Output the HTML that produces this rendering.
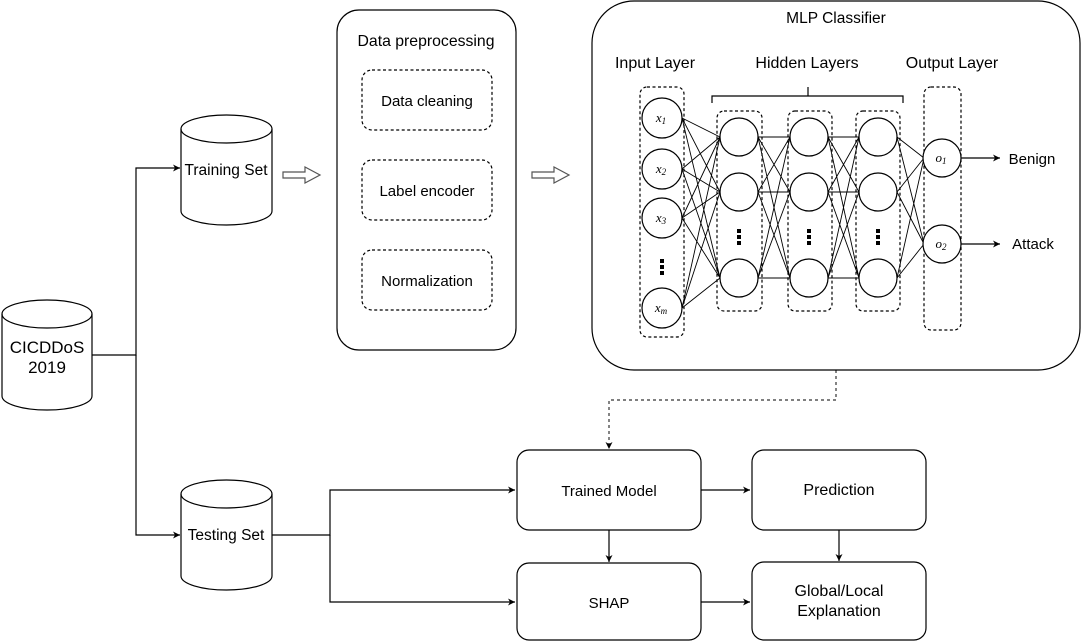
<!DOCTYPE html>
<html><head><meta charset="utf-8"><style>
body{margin:0;background:#fff}
svg{display:block}
text{font-family:"Liberation Sans",sans-serif;fill:#000}
.m{font-family:"Liberation Serif",serif;font-style:italic;font-size:13px}
</style></head><body>
<svg width="1082" height="641" viewBox="0 0 1082 641" xmlns="http://www.w3.org/2000/svg">
<defs><marker id="a" markerWidth="8" markerHeight="8" refX="7" refY="4" orient="auto" markerUnits="userSpaceOnUse"><path d="M0,0.5 L7,4 L0,7.5 L2,4 Z" fill="#000"/></marker></defs>
<g fill="none" stroke="#000" stroke-width="1.2">
<path d="M2,314 v82 a45,14 0 0 0 90,0 v-82"/><ellipse cx="47" cy="314" rx="45" ry="14"/>
<path d="M181,129 v82 a45.5,14 0 0 0 91,0 v-82"/><ellipse cx="226.5" cy="129" rx="45.5" ry="14"/>
<path d="M181,494 v82 a45.5,14 0 0 0 91,0 v-82"/><ellipse cx="226.5" cy="494" rx="45.5" ry="14"/>
<path d="M92,355 H136 V168 H180" marker-end="url(#a)"/>
<path d="M136,355 V535 H180" marker-end="url(#a)"/>
<path d="M272,535 H330 V490 H515" marker-end="url(#a)"/>
<path d="M330,535 V602 H515" marker-end="url(#a)"/>
<path d="M701,490 H750" marker-end="url(#a)"/>
<path d="M701,602 H750" marker-end="url(#a)"/>
<path d="M609,530 V562" marker-end="url(#a)"/>
<path d="M839,530 V561" marker-end="url(#a)"/>
<path d="M836,370 V400 H609 V449" stroke-dasharray="3,3" stroke="#333" marker-end="url(#a)"/>
<path d="M283,172 h22 v-5 l15,8 l-15,8 v-5 h-22 Z" stroke="#555"/>
<path d="M532,172 h22 v-5 l15,8 l-15,8 v-5 h-22 Z" stroke="#555"/>
<rect x="337" y="10" width="179" height="340" rx="22"/>
<rect x="592" y="1" width="488" height="369" rx="42"/>
<g stroke-dasharray="3,2.5">
<rect x="362" y="70" width="130" height="60" rx="10"/>
<rect x="362" y="160" width="130" height="60" rx="10"/>
<rect x="362" y="250" width="130" height="60" rx="10"/>
<rect x="640" y="87" width="44" height="250" rx="7"/>
<rect x="717" y="111" width="45" height="200" rx="7"/>
<rect x="788" y="111" width="44" height="200" rx="7"/>
<rect x="856" y="111" width="44" height="200" rx="7"/>
<rect x="924" y="87" width="37" height="243" rx="7"/>
</g>
<rect x="517" y="450" width="184" height="80" rx="12"/>
<rect x="752" y="450" width="174" height="80" rx="12"/>
<rect x="517" y="563" width="184" height="77" rx="12"/>
<rect x="752" y="562" width="174" height="78" rx="12"/>
<path d="M712,103 V96 H903 V103 M808,96 V87"/>
<g stroke-width="0.9">
<path d="M682,118L720,137M682,118L720,192M682,118L720,278M682,169L720,137M682,169L720,192M682,169L720,278M682,218L720,137M682,218L720,192M682,218L720,278M682,308L720,137M682,308L720,192M682,308L720,278"/>
<path d="M758,137L790,137M758,137L790,192M758,137L790,278M758,192L790,137M758,192L790,192M758,192L790,278M758,278L790,137M758,278L790,192M758,278L790,278"/>
<path d="M828,137L859,137M828,137L859,192M828,137L859,278M828,192L859,137M828,192L859,192M828,192L859,278M828,278L859,137M828,278L859,192M828,278L859,278"/>
<path d="M897,137L924,158M897,137L924,244M897,192L924,158M897,192L924,244M897,278L924,158M897,278L924,244"/>
</g>
<path d="M960,158H1000" marker-end="url(#a)"/>
<path d="M960,244H1000" marker-end="url(#a)"/>
<g fill="#fff">
<circle cx="662" cy="118" r="20"/><circle cx="662" cy="169" r="20"/><circle cx="662" cy="218" r="20"/><circle cx="662" cy="308" r="20"/>
<circle cx="739" cy="137" r="19"/><circle cx="739" cy="192" r="19"/><circle cx="739" cy="278" r="19"/>
<circle cx="809" cy="137" r="19"/><circle cx="809" cy="192" r="19"/><circle cx="809" cy="278" r="19"/>
<circle cx="878" cy="137" r="19"/><circle cx="878" cy="192" r="19"/><circle cx="878" cy="278" r="19"/>
<circle cx="942" cy="158" r="19"/><circle cx="942" cy="244" r="19"/>
</g>
</g>
<g fill="#000">
<rect x="660" y="259" width="4" height="4"/><rect x="660" y="265" width="4" height="4"/><rect x="660" y="271" width="4" height="4"/>
<rect x="737" y="229" width="4" height="4"/><rect x="737" y="235" width="4" height="4"/><rect x="737" y="241" width="4" height="4"/>
<rect x="807" y="229" width="4" height="4"/><rect x="807" y="235" width="4" height="4"/><rect x="807" y="241" width="4" height="4"/>
<rect x="876" y="229" width="4" height="4"/><rect x="876" y="235" width="4" height="4"/><rect x="876" y="241" width="4" height="4"/>
</g>
<g text-anchor="middle">
<text x="661" y="122" class="m">x<tspan font-size="9" dy="2">1</tspan></text>
<text x="661" y="173" class="m">x<tspan font-size="9" dy="2">2</tspan></text>
<text x="661" y="222" class="m">x<tspan font-size="9" dy="2">3</tspan></text>
<text x="661" y="312" class="m">x<tspan font-size="9" dy="2">m</tspan></text>
<text x="941" y="162" class="m">o<tspan font-size="9" dy="2">1</tspan></text>
<text x="941" y="248" class="m">o<tspan font-size="9" dy="2">2</tspan></text>
</g>
<g font-size="15.5" text-anchor="middle">
<text x="47" y="353" font-size="17">CICDDoS</text>
<text x="47" y="373" font-size="17">2019</text>
<text x="226" y="175">Training Set</text>
<text x="226" y="540">Testing Set</text>
<text x="426" y="46" font-size="15.8">Data preprocessing</text>
<text x="427" y="106" font-size="15">Data cleaning</text>
<text x="427" y="196" font-size="15">Label encoder</text>
<text x="427" y="286" font-size="15">Normalization</text>
<text x="836" y="23">MLP Classifier</text>
<text x="655" y="68" font-size="16">Input Layer</text>
<text x="807" y="68" font-size="16">Hidden Layers</text>
<text x="952" y="68" font-size="16">Output Layer</text>
<text x="1032" y="164" font-size="15">Benign</text>
<text x="1033" y="249" font-size="15">Attack</text>
<text x="609" y="496" font-size="15">Trained Model</text>
<text x="839" y="495" font-size="16">Prediction</text>
<text x="609" y="608" font-size="15">SHAP</text>
<text x="839" y="596" font-size="16">Global/Local</text>
<text x="839" y="616" font-size="16">Explanation</text>
</g>
</svg>
</body></html>
